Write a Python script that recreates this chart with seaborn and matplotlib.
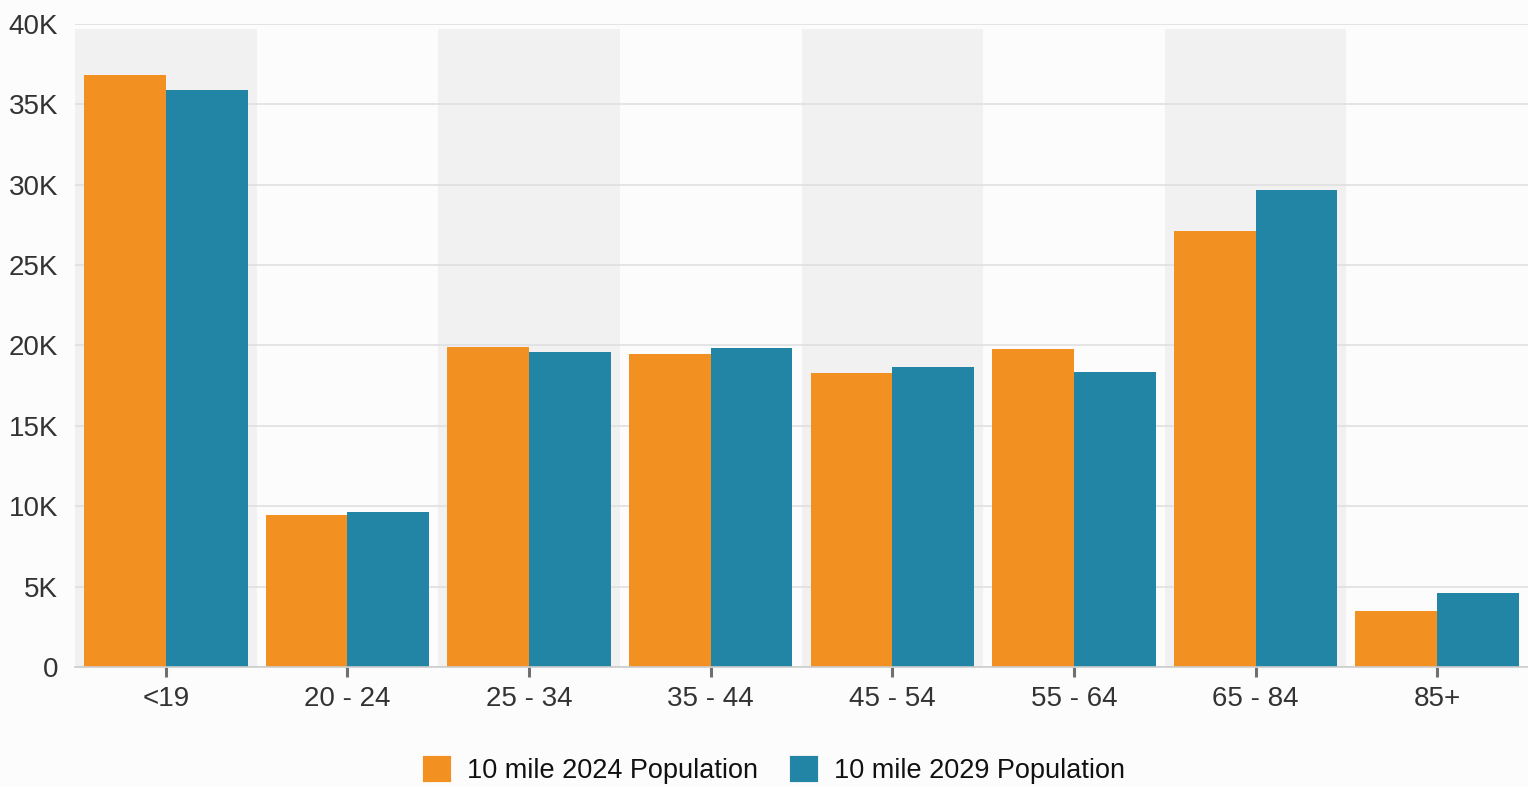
import matplotlib
matplotlib.use("Agg")
import matplotlib.pyplot as plt
import seaborn as sns
import pandas as pd
from matplotlib.patches import Patch
from matplotlib.ticker import FuncFormatter

# Population by age group within 10 miles
age_groups = ["<19", "20 - 24", "25 - 34", "35 - 44", "45 - 54", "55 - 64", "65 - 84", "85+"]
pop_2024 = [36850, 9460, 19910, 19470, 18290, 19780, 27120, 3480]
pop_2029 = [35890, 9640, 19600, 19840, 18660, 18350, 29670, 4600]
series_names = ["10 mile 2024 Population", "10 mile 2029 Population"]
series_colors = ["#F29122", "#2285A5"]

df = pd.DataFrame({
    "age": age_groups * 2,
    "population": pop_2024 + pop_2029,
    "series": [series_names[0]] * len(age_groups) + [series_names[1]] * len(age_groups),
})

sns.set_theme(style="white")
plt.rcParams["font.family"] = ["Liberation Sans", "DejaVu Sans"]

bg = "#FCFCFC"
fig = plt.figure(figsize=(15.28, 7.87), dpi=100, facecolor=bg)
ax = fig.add_axes([75 / 1528, (787 - 667) / 787, (1528 - 75) / 1528, (667 - 24) / 787])
ax.set_facecolor(bg)

# alternating column shading
for i in range(0, len(age_groups), 2):
    ax.axvspan(i - 0.5, i + 0.5, ymin=0, ymax=0.992, color="#F1F1F1", zorder=0, lw=0)

ax.yaxis.grid(True, color="#E0E0E0", lw=1.2, zorder=0.5)
ax.set_axisbelow(True)

sns.barplot(data=df, x="age", y="population", hue="series", order=age_groups,
            hue_order=series_names, palette=series_colors, width=0.9, gap=0,
            saturation=1, legend=False, ax=ax, zorder=2, linewidth=0)

ax.set_xlim(-0.5, len(age_groups) - 0.5)
ax.set_ylim(0, 40000)
ax.set_yticks(range(0, 40001, 5000))
ax.yaxis.set_major_formatter(FuncFormatter(lambda v, _: "0" if v == 0 else f"{int(v / 1000)}K"))
ax.set_xlabel("")
ax.set_ylabel("")

for s in ["top", "right", "left"]:
    ax.spines[s].set_visible(False)
ax.spines["bottom"].set_color("#CCCCCC")
ax.spines["bottom"].set_linewidth(1.2)
ax.spines["bottom"].set_zorder(3)

ax.tick_params(axis="y", length=0, pad=12, labelsize=20, labelcolor="#333333")
ax.tick_params(axis="x", length=7, width=2.2, color="#707070", pad=7,
               labelsize=20, labelcolor="#333333", bottom=True)

handles = [Patch(facecolor=c, edgecolor=c, linewidth=3, joinstyle="round", label=n)
           for n, c in zip(series_names, series_colors)]
fig.legend(handles=handles, loc="center", bbox_to_anchor=(775 / 1528, 1 - 771 / 787),
           ncol=2, frameon=False, fontsize=19.5, handlelength=0.9, handleheight=0.9,
           handletextpad=0.65, columnspacing=1.25, labelcolor="#111111")

fig.savefig("out.png", dpi=100, facecolor=bg)
